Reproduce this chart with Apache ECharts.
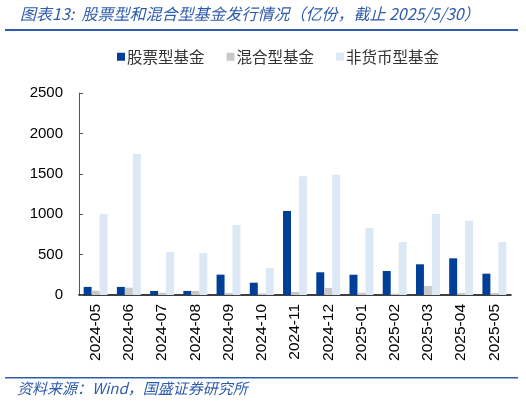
<!DOCTYPE html>
<html><head><meta charset="utf-8">
<script src="https://cdn.jsdelivr.net/npm/echarts@6/dist/echarts.min.js"></script>
<style>html,body{margin:0;padding:0;background:#fff}#c{width:526px;height:403px}</style>
</head><body><div id="c"></div>
<script>
const categories = ['2024-05','2024-06','2024-07','2024-08','2024-09','2024-10','2024-11','2024-12','2025-01','2025-02','2025-03','2025-04','2025-05'];
const stockFund = [100, 100, 50, 50, 252, 152, 1040, 281, 251, 297, 380, 454, 264];
const mixedFund = [53, 90, 28, 50, 25, 20, 37, 87, 28, 16, 111, 25, 25];
const nonMoneyFund = [1002, 1745, 532, 520, 866, 334, 1469, 1489, 829, 656, 1002, 920, 656];
const yTicks = [0, 500, 1000, 1500, 2000, 2500];
const seriesNames = ['股票型基金', '混合型基金', '非货币型基金'];

const chart = echarts.init(document.getElementById('c'));
const cjk = '"Noto Sans CJK SC", sans-serif';
chart.setOption({
  animation: false,
  title: {
    text: '图表13:  股票型和混合型基金发行情况（亿份，截止 2025/5/30）',
    left: 15, top: 1,
    textStyle: { color: '#2E5CAA', fontSize: 16, fontStyle: 'italic', fontWeight: 'normal', fontFamily: cjk }
  },
  graphic: [
    { type: 'rect', shape: { x: 5, y: 29, width: 513, height: 2 }, style: { fill: '#2E5CAA' } },
    { type: 'rect', shape: { x: 5, y: 377, width: 513, height: 1.5 }, style: { fill: '#2E5CAA' } },
    { type: 'text', left: 17, top: 381, style: { text: '资料来源：Wind，国盛证券研究所', fill: '#2E5CAA', font: 'italic 15px "Noto Sans CJK SC", sans-serif' } }
  ],
  legend: {
    top: 44, left: 112,
    itemWidth: 8, itemHeight: 8, itemGap: 22,
    icon: 'rect',
    textStyle: { fontSize: 15.5, color: '#333', fontFamily: cjk, padding: [0, 0, 0, -3] },
    data: seriesNames
  },
  grid: { left: 79, right: 15, top: 93, bottom: 108 },
  xAxis: {
    type: 'category', data: categories,
    axisLine: { lineStyle: { color: '#000', width: 1.5 } },
    axisTick: { inside: true, length: 4, lineStyle: { color: '#000' } },
    axisLabel: { rotate: 90, fontSize: 15.5, color: '#000', fontFamily: '"Liberation Sans", Arial, sans-serif', margin: 9, interval: 0 }
  },
  yAxis: {
    type: 'value', min: yTicks[0], max: yTicks[yTicks.length - 1], interval: 500,
    splitLine: { show: false },
    axisLine: { show: true, lineStyle: { color: '#555' } },
    axisTick: { show: true, inside: true, length: 4, lineStyle: { color: '#555' } },
    axisLabel: { fontSize: 15, color: '#000', fontFamily: '"Liberation Sans", Arial, sans-serif', margin: 16, formatter: v => String(v) }
  },
  series: [
    { name: seriesNames[0], type: 'bar', data: stockFund, itemStyle: { color: '#003F98' }, barGap: '0%', barCategoryGap: '28%' },
    { name: seriesNames[1], type: 'bar', data: mixedFund, itemStyle: { color: '#C8C8C8' } },
    { name: seriesNames[2], type: 'bar', data: nonMoneyFund, itemStyle: { color: '#DCE8F5' } }
  ]
});
</script></body></html>
